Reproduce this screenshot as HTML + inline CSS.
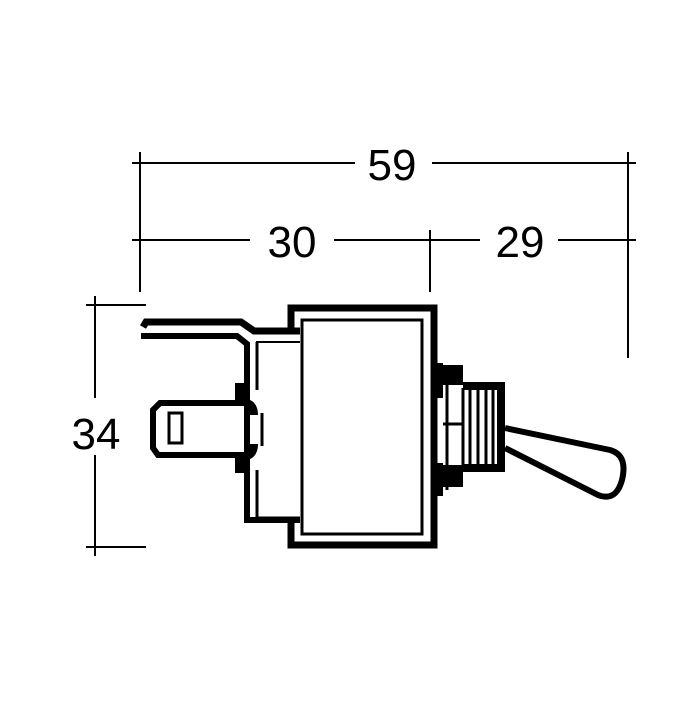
<!DOCTYPE html>
<html><head><style>body{margin:0;background:#fff}</style></head><body>
<svg width="700" height="700" viewBox="0 0 700 700" xmlns="http://www.w3.org/2000/svg" font-family="Liberation Sans, sans-serif">
<rect width="700" height="700" fill="#fff"/>
<g stroke="#000" stroke-width="2" fill="none">
<line x1="132" y1="163" x2="355" y2="163"/><line x1="432" y1="163" x2="636" y2="163"/>
<line x1="140" y1="152" x2="140" y2="292"/><line x1="628" y1="152" x2="628" y2="358"/>
<line x1="132" y1="240" x2="250" y2="240"/><line x1="334" y1="240" x2="480" y2="240"/><line x1="558" y1="240" x2="636" y2="240"/>
<line x1="430" y1="230" x2="430" y2="292"/>
<line x1="95" y1="296" x2="95" y2="398"/><line x1="95" y1="455" x2="95" y2="556"/>
<line x1="86" y1="305" x2="146" y2="305"/><line x1="86" y1="547" x2="146" y2="547"/>
</g>
<g font-size="44" fill="#000" text-anchor="middle">
<text x="392" y="180">59</text><text x="292" y="257">30</text><text x="520" y="257">29</text><text x="96" y="449">34</text>
</g>
<g stroke="#000" fill="none" stroke-linejoin="miter">
<!-- body outer -->
<path d="M291 330 V308 H434 V545 H291 V522" stroke-width="7"/>
<rect x="302" y="320" width="120" height="214" stroke-width="3"/>
<!-- top lead -->
<path d="M143 327 L146 322 L241 322 L254 331 L300 331" stroke-width="7"/>
<path d="M141 336 L237 336 L247 344 L247 520 L300 520" stroke-width="6"/>
<path d="M256 342 L300 342" stroke-width="2"/>
<path d="M257 342 V390 M257 470 V518 L300 518" stroke-width="3"/>
<!-- spade terminal -->
<path d="M245 403 H160 L153 410 V448 L158 455 H245" stroke-width="6"/>
<rect x="169" y="413" width="13" height="30" stroke-width="3"/>
<path d="M262 413 V446" stroke-width="3"/>
</g>
<g fill="#000">
<rect x="235" y="383" width="12" height="20"/><rect x="235" y="455" width="12" height="18"/>
<path d="M240 398 Q258 398 258 415 L250 415 Q248 404 240 404Z"/>
<path d="M240 461 Q258 461 258 444 L250 444 Q248 456 240 456Z"/>
<!-- bushing -->
<rect x="432" y="363" width="11" height="35"/><rect x="432" y="463" width="11" height="33"/>
<rect x="443" y="365" width="20" height="20"/><rect x="443" y="465" width="20" height="22"/>
<rect x="463" y="382" width="42" height="8"/><rect x="463" y="464" width="42" height="8"/>
<rect x="497" y="382" width="8" height="90"/>
</g>
<g stroke="#000" fill="none" stroke-width="3">
<line x1="463" y1="388" x2="463" y2="470"/><line x1="470" y1="388" x2="470" y2="466"/>
<line x1="478" y1="388" x2="478" y2="466"/><line x1="486" y1="388" x2="486" y2="466"/><line x1="493" y1="388" x2="493" y2="466"/>
<line x1="447" y1="370" x2="447" y2="490"/><line x1="443" y1="424" x2="463" y2="424"/>
<path d="M505 428 L610 450 Q628 455 622 480 Q616 502 598 495 L505 448" stroke-width="6" stroke-linejoin="round"/>
</g>
</svg>
</body></html>
